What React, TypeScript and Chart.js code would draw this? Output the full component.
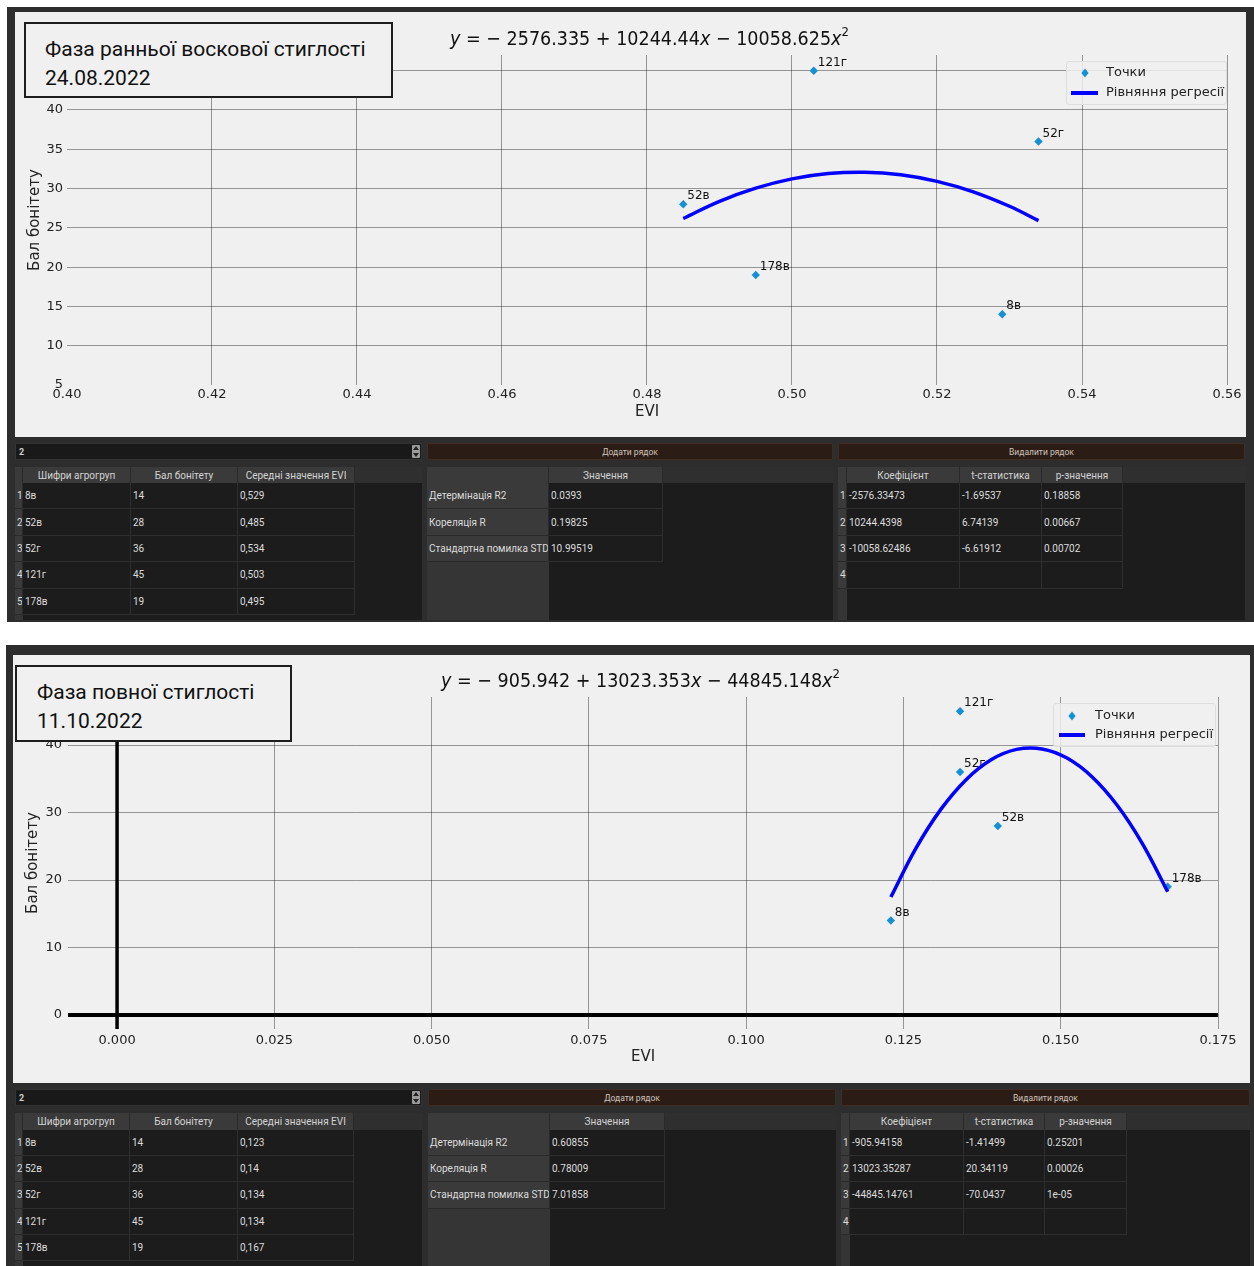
import React, { useEffect, useRef } from "react";
import { Chart, registerables } from "chart.js";

Chart.register(...registerables);

// ---------------- data ----------------
const agroCodes = ["8в", "52в", "52г", "121г", "178в"];
const bonitetScores = [14, 28, 36, 45, 19];
const eviWax = [0.529, 0.485, 0.534, 0.503, 0.495];
const eviFull = [0.123, 0.14, 0.134, 0.134, 0.167];

// regression curve
const fitWaxX = [0.485, 0.49, 0.495, 0.5, 0.505, 0.51, 0.515, 0.52, 0.525, 0.53, 0.534];
const fitWaxY = [26.19, 28.37, 30.05, 31.23, 31.91, 32.08, 31.76, 30.92, 29.59, 27.75, 25.92];
const fitFullX = [0.123, 0.127, 0.131, 0.135, 0.139, 0.143, 0.147, 0.151, 0.155, 0.159, 0.163, 0.167];
const fitFullY = [17.48, 24.73, 30.54, 34.91, 37.86, 39.36, 39.43, 38.07, 35.27, 31.04, 25.37, 18.27];

// thick zero axes of the second chart
const zeroLineX = [-0.0078, 0.175];
const zeroLineY = [-2.07, 47.12];

const xTicksWax = [0.4, 0.42, 0.44, 0.46, 0.48, 0.5, 0.52, 0.54, 0.56];
const yTicksWax = [5, 10, 15, 20, 25, 30, 35, 40, 45];
const xTicksFull = [0, 0.025, 0.05, 0.075, 0.1, 0.125, 0.15, 0.175];
const yTicksFull = [0, 10, 20, 30, 40];

const tableHeaders = ["Шифри агрогруп", "Бал бонітету", "Середні значення EVI"];
const statLabels = ["Детермінація R2", "Кореляція R", "Стандартна помилка STD"];
const statHeader = ["Значення"];
const coefHeaders = ["Коефіцієнт", "t-статистика", "p-значення"];

const statsWax = ["0.0393", "0.19825", "10.99519"];
const coefWax = ["-2576.33473", "10244.4398", "-10058.62486", ""];
const tWax = ["-1.69537", "6.74139", "-6.61912", ""];
const pWax = ["0.18858", "0.00667", "0.00702", ""];

const statsFull = ["0.60855", "0.78009", "7.01858"];
const coefFull = ["-905.94158", "13023.35287", "-44845.14761", ""];
const tFull = ["-1.41499", "20.34119", "-70.0437", ""];
const pFull = ["0.25201", "0.00026", "1e-05", ""];

// ---------------- styles ----------------
const FONT = '"DejaVu Sans", sans-serif';
const UI = 'Roboto, "Open Sans", sans-serif';
const GRID = "rgba(0,0,0,0.38)";
const POINT = "#1590d5";
const CURVE = "#0000ff";
const FRAME = "#2d2d2d";
const LIGHT = "#f0f0f0";
const BODY = "#1c1c1c";
const CELLLINE = "#2e2e2e";
const HEAD = "#3a3a3a";

const pointLabelPlugin = {
  id: "pointLabelPlugin",
  beforeDatasetsDraw(chart: any) {
    const ctx = chart.ctx;
    chart.data.datasets.forEach((ds: any, di: number) => {
      if (!ds.pointTexts) return;
      const meta = chart.getDatasetMeta(di);
      ctx.save();
      ctx.font = `12px ${FONT}`;
      ctx.fillStyle = "#111";
      ctx.textBaseline = "middle";
      ctx.textAlign = "left";
      meta.data.forEach((el: any, i: number) => {
        ctx.fillText(ds.pointTexts[i], el.x + 4, el.y - 8);
      });
      ctx.restore();
    });
  },
};

function makeConfig(p: any): any {
  const datasets: any[] = [
    {
      type: "scatter",
      label: "Точки",
      data: p.xs.map((x: number, i: number) => ({ x, y: p.ys[i] })),
      pointStyle: "rectRot",
      pointRadius: 4.2,
      pointHoverRadius: 4.2,
      backgroundColor: POINT,
      borderColor: POINT,
      borderWidth: 0,
      pointTexts: agroCodes,
      order: 2,
    },
    {
      type: "scatter",
      label: "Рівняння регресії",
      data: p.fitX.map((x: number, i: number) => ({ x, y: p.fitY[i] })),
      showLine: true,
      tension: 0.4,
      borderColor: CURVE,
      backgroundColor: CURVE,
      borderWidth: 3.5,
      pointRadius: 0,
      pointHoverRadius: 0,
      fill: false,
      order: 1,
    },
  ];
  if (p.zero) {
    datasets.push({
      type: "scatter",
      label: "x0",
      data: zeroLineX.map((x) => ({ x, y: 0 })),
      showLine: true,
      borderColor: "#000",
      borderWidth: 4,
      pointRadius: 0,
      order: 3,
    });
    datasets.push({
      type: "scatter",
      label: "y0",
      data: zeroLineY.map((y) => ({ x: 0, y })),
      showLine: true,
      borderColor: "#000",
      borderWidth: 3.5,
      pointRadius: 0,
      order: 3,
    });
  }
  return {
    type: "scatter",
    data: { datasets },
    plugins: [pointLabelPlugin],
    options: {
      animation: false,
      responsive: false,
      devicePixelRatio: 1,
      events: [],
      layout: { padding: p.pad },
      plugins: { legend: { display: false }, tooltip: { enabled: false }, title: { display: false } },
      scales: {
        x: {
          type: "linear",
          min: p.xMin,
          max: p.xMax,
          afterFit: (s: any) => {
            s.height = p.xAxisH;
          },
          afterBuildTicks: (s: any) => {
            s.ticks = p.xTicks.map((v: number) => ({ value: v }));
          },
          ticks: {
            callback: (v: any) => Number(v).toFixed(p.xDigits),
            font: { family: FONT, size: 13 },
            color: "#222",
            padding: p.xTickPad,
            maxRotation: 0,
            autoSkip: false,
          },
          grid: {
            color: (c: any) => (c.tick && p.hideX.includes(c.tick.value) ? "rgba(0,0,0,0)" : GRID),
            drawTicks: false,
            lineWidth: 1,
          },
          border: { display: false },
          title: {
            display: true,
            text: "EVI",
            font: { family: FONT, size: 15 },
            color: "#222",
            padding: { top: 0, bottom: 16 },
          },
        },
        y: {
          type: "linear",
          min: p.yMin,
          max: p.yMax,
          afterFit: (s: any) => {
            s.width = p.yAxisW;
          },
          afterBuildTicks: (s: any) => {
            s.ticks = p.yTicks.map((v: number) => ({ value: v }));
          },
          ticks: {
            font: { family: FONT, size: 13 },
            color: "#222",
            padding: p.yTickPad,
            autoSkip: false,
          },
          grid: {
            color: (c: any) => (c.tick && p.hideY.includes(c.tick.value) ? "rgba(0,0,0,0)" : GRID),
            drawTicks: false,
            lineWidth: 1,
          },
          border: { display: false },
          title: {
            display: true,
            text: "Бал бонітету",
            font: { family: FONT, size: 15 },
            color: "#222",
            padding: { top: p.yTitlePad, bottom: 0 },
          },
        },
      },
    },
  };
}

function ChartBox({ l, t, w, h, cfg }: any) {
  const ref = useRef<HTMLCanvasElement>(null);
  useEffect(() => {
    const chart = new Chart(ref.current as HTMLCanvasElement, cfg);
    return () => chart.destroy();
  }, []);
  return (
    <canvas
      ref={ref}
      width={w}
      height={h}
      style={{ position: "absolute", left: l, top: t, width: w, height: h }}
    />
  );
}

function Abs({ l, t, w, h, style, children }: any) {
  return (
    <div
      style={{
        position: "absolute",
        left: l,
        top: t,
        width: w,
        height: h,
        boxSizing: "border-box",
        ...style,
      }}
    >
      {children}
    </div>
  );
}

const cellText: any = {
  fontFamily: UI,
  fontSize: 10,
  color: "#dcdcdc",
  display: "flex",
  alignItems: "center",
  whiteSpace: "nowrap",
  overflow: "hidden",
};

function DataTable({ cols, right, headTop, rowTop, rowH, bottom, headers, vhead, rows }: any) {
  const els: any[] = [];
  const headH = rowTop - headTop;
  els.push(<Abs key="bg" l={cols[0]} t={headTop} w={right - cols[0]} h={bottom - headTop} style={{ background: BODY }} />);
  els.push(<Abs key="hx" l={cols[0]} t={headTop} w={right - cols[0]} h={headH} style={{ background: "#2f2f2f" }} />);
  els.push(
    <Abs key="vh" l={cols[0]} t={rowTop} w={cols[1] - cols[0]} h={bottom - rowTop} style={{ background: "#353535" }} />
  );
  for (let c = 0; c < cols.length - 1; c++) {
    els.push(
      <Abs
        key={"h" + c}
        l={cols[c]}
        t={headTop}
        w={cols[c + 1] - cols[c]}
        h={headH}
        style={{
          ...cellText,
          background: HEAD,
          justifyContent: "center",
          borderRight: "1px solid #2a2a2a",
          color: "#d4d4d4",
        }}
      >
        {c === 0 ? "" : headers[c - 1]}
      </Abs>
    );
  }
  vhead.forEach((vh: string, r: number) => {
    const top = rowTop + r * rowH;
    els.push(
      <Abs
        key={"v" + r}
        l={cols[0]}
        t={top}
        w={cols[1] - cols[0]}
        h={rowH}
        style={{
          ...cellText,
          background: HEAD,
          paddingLeft: 2,
          borderBottom: "1px solid #2a2a2a",
          borderRight: "1px solid #2a2a2a",
        }}
      >
        {vh}
      </Abs>
    );
    for (let c = 1; c < cols.length - 1; c++) {
      els.push(
        <Abs
          key={"c" + r + "_" + c}
          l={cols[c]}
          t={top}
          w={cols[c + 1] - cols[c]}
          h={rowH}
          style={{
            ...cellText,
            background: BODY,
            paddingLeft: 2,
            borderBottom: "1px solid " + CELLLINE,
            borderRight: "1px solid " + CELLLINE,
          }}
        >
          {rows[c - 1][r]}
        </Abs>
      );
    }
  });
  return <>{els}</>;
}

function Controls({ top, spin, b1, b2 }: any) {
  const btn: any = {
    ...cellText,
    fontSize: 8.5,
    color: "#cfc3bb",
    justifyContent: "center",
    background: "#2b1d16",
    border: "1px solid #3f2c22",
    borderRadius: 2,
  };
  return (
    <>
      <Abs l={spin[0]} t={top} w={spin[1] - spin[0]} h={17} style={{ ...cellText, background: "#191919", border: "1px solid #333", paddingLeft: 3, fontSize: 9, fontWeight: 700, color: "#cfcfcf" }}>
        2
      </Abs>
      <Abs l={spin[1] - 10} t={top + 2} w={8} h={13} style={{ background: "#9a9a9a", borderRadius: 1 }}>
        <div style={{ position: "absolute", left: 1, top: 1, width: 0, height: 0, borderLeft: "3px solid transparent", borderRight: "3px solid transparent", borderBottom: "4px solid #222" }} />
        <div style={{ position: "absolute", left: 1, top: 8, width: 0, height: 0, borderLeft: "3px solid transparent", borderRight: "3px solid transparent", borderTop: "4px solid #222" }} />
      </Abs>
      <Abs l={b1[0]} t={top} w={b1[1] - b1[0]} h={17} style={btn}>
        Додати рядок
      </Abs>
      <Abs l={b2[0]} t={top} w={b2[1] - b2[0]} h={17} style={btn}>
        Видалити рядок
      </Abs>
    </>
  );
}

function Legend({ l, t, w, h, mx, my, lx0, lx1, ly, tx }: any) {
  const txt: any = { position: "absolute", left: tx - l, fontFamily: FONT, fontSize: 13, color: "#222", lineHeight: "16px", whiteSpace: "nowrap" };
  return (
    <Abs l={l} t={t} w={w} h={h} style={{ background: "rgba(240,240,240,0.85)", border: "1px solid #dedede", borderRadius: 3 }}>
      <svg style={{ position: "absolute", left: mx - l - 5, top: my - t - 5 }} width={10} height={10}>
        <polygon points="5,0.6 8.6,5 5,9.4 1.4,5" fill={POINT} />
      </svg>
      <div style={{ ...txt, top: my - t - 9 }}>Точки</div>
      <div style={{ position: "absolute", left: lx0 - l, top: ly - t - 2, width: lx1 - lx0, height: 4, background: CURVE }} />
      <div style={{ ...txt, top: ly - t - 9 }}>Рівняння регресії</div>
    </Abs>
  );
}

function Equation({ l, t, a, b, c }: any) {
  return (
    <div
      style={{
        position: "absolute",
        left: l,
        top: t,
        fontFamily: FONT,
        fontSize: 19.5,
        lineHeight: "24px",
        color: "#111",
        whiteSpace: "nowrap",
        transform: "scaleX(0.9)",
        transformOrigin: "0 0",
      }}
    >
      <i>y</i> = − {a} + {b}
      <i>x</i> − {c}
      <i>x</i>
      <sup style={{ fontSize: 13, lineHeight: 0, verticalAlign: 9 }}>2</sup>
    </div>
  );
}

function TitleBox({ l, t, w, h, line1, line2, px }: any) {
  return (
    <Abs l={l} t={t} w={w} h={h} style={{ background: LIGHT, border: "2px solid #1e1e1e" }}>
      <div style={{ position: "absolute", left: px, top: 11, fontFamily: UI, fontSize: 21, lineHeight: "29px", color: "#111", whiteSpace: "nowrap" }}>
        {line1}
        <br />
        {line2}
      </div>
    </Abs>
  );
}

const toComma = (v: number) => String(v).replace(".", ",");

export default function App() {
  const cfgWax = makeConfig({
    xs: eviWax,
    ys: bonitetScores,
    fitX: fitWaxX,
    fitY: fitWaxY,
    xMin: 0.4,
    xMax: 0.56,
    yMin: 5,
    yMax: 47,
    xTicks: xTicksWax,
    yTicks: yTicksWax,
    xDigits: 2,
    hideX: [0.4],
    hideY: [5],
    pad: { left: 0, top: 40, right: 20, bottom: 0 },
    yAxisW: 52,
    xAxisH: 52,
    yTitlePad: 11,
    xTickPad: 2,
    yTickPad: 4,
    zero: false,
  });
  const cfgFull = makeConfig({
    xs: eviFull,
    ys: bonitetScores,
    fitX: fitFullX,
    fitY: fitFullY,
    xMin: zeroLineX[0],
    xMax: zeroLineX[1],
    yMin: zeroLineY[0],
    yMax: zeroLineY[1],
    xTicks: xTicksFull,
    yTicks: yTicksFull,
    xDigits: 3,
    hideX: [],
    hideY: [],
    pad: { left: 0, top: 42, right: 32, bottom: 0 },
    yAxisW: 54,
    xAxisH: 53,
    yTitlePad: 10,
    xTickPad: 4,
    yTickPad: 6,
    zero: true,
  });

  const tableRows1 = [agroCodes, bonitetScores.map(String), eviWax.map(toComma)];
  const tableRows2 = [agroCodes, bonitetScores.map(String), eviFull.map(toComma)];

  return (
    <div style={{ position: "fixed", left: 0, top: 0, width: 1254, height: 1266, overflow: "hidden", background: "#fff" }}>
      {/* ---------- panel 1 ---------- */}
      <Abs l={7} t={7} w={1247} h={615} style={{ background: FRAME }} />
      <Abs l={15} t={12} w={1231} h={425} style={{ background: LIGHT }} />
      <ChartBox l={15} t={15} w={1232} h={422} cfg={cfgWax} />
      <Equation l={450} t={27} a="2576.335" b="10244.44" c="10058.625" />
      <Legend l={1066} t={61} w={161} h={44} mx={1084} my={72} lx0={1070} lx1={1097} ly={92} tx={1105} />
      <TitleBox l={24} t={22} w={369} h={76} line1="Фаза ранньої воскової стиглості" line2="24.08.2022" px={19} />

      <Controls top={443} spin={[15, 422]} b1={[427, 833]} b2={[838, 1245]} />
      <DataTable cols={[15, 23, 131, 238, 355]} right={422} headTop={467} rowTop={483} rowH={26.4} bottom={620} headers={tableHeaders} vhead={["1", "2", "3", "4", "5"]} rows={tableRows1} />
      <DataTable cols={[427, 549, 663]} right={833} headTop={467} rowTop={483} rowH={26.4} bottom={620} headers={statHeader} vhead={statLabels} rows={[statsWax]} />
      <DataTable cols={[838, 847, 960, 1042, 1123]} right={1245} headTop={467} rowTop={483} rowH={26.4} bottom={620} headers={coefHeaders} vhead={["1", "2", "3", "4"]} rows={[coefWax, tWax, pWax]} />

      {/* ---------- panel 2 ---------- */}
      <Abs l={6} t={645} w={1248} h={621} style={{ background: FRAME }} />
      <Abs l={13} t={655} w={1237} h={428} style={{ background: LIGHT }} />
      <ChartBox l={14} t={655} w={1236} h={427} cfg={cfgFull} />
      <Equation l={441} t={669} a="905.942" b="13023.353" c="44845.148" />
      <Legend l={1053} t={703} w={163} h={44} mx={1071} my={715} lx0={1058} lx1={1084} ly={734} tx={1094} />
      <TitleBox l={15} t={665} w={277} h={77} line1="Фаза повної стиглості" line2="11.10.2022" px={20} />

      <Controls top={1089} spin={[15, 422]} b1={[428, 836]} b2={[841, 1250]} />
      <DataTable cols={[15, 23, 130, 238, 354]} right={422} headTop={1113} rowTop={1130} rowH={26.2} bottom={1266} headers={tableHeaders} vhead={["1", "2", "3", "4", "5"]} rows={tableRows2} />
      <DataTable cols={[428, 550, 665]} right={836} headTop={1113} rowTop={1130} rowH={26.2} bottom={1266} headers={statHeader} vhead={statLabels} rows={[statsFull]} />
      <DataTable cols={[841, 850, 964, 1045, 1127]} right={1250} headTop={1113} rowTop={1130} rowH={26.2} bottom={1266} headers={coefHeaders} vhead={["1", "2", "3", "4"]} rows={[coefFull, tFull, pFull]} />
    </div>
  );
}
